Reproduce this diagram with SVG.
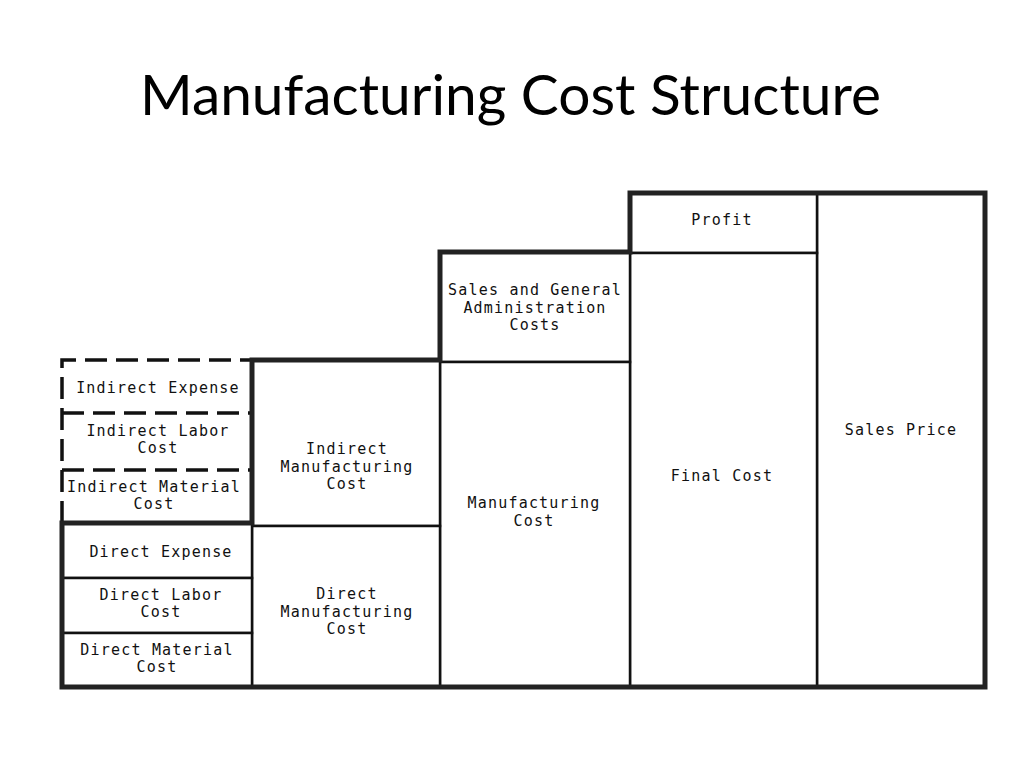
<svg xmlns="http://www.w3.org/2000/svg" width="1024" height="768" viewBox="0 0 1024 768">
  <style>
    .title { font-family: Lato, "Open Sans", "Liberation Sans", sans-serif; font-size: 56px; fill: #000; }
    .lbl { font-family: "DejaVu Sans Mono", "Liberation Mono", monospace; font-size: 15px; letter-spacing: 1.2px; fill: #111; text-anchor: middle; }
    .cell { fill: #fff; stroke: #111; stroke-width: 2.5; }
    .cellnb { fill: #fff; stroke: none; }
    .outline { fill: none; stroke: #222; stroke-width: 5; stroke-linejoin: miter; }
    .dash { fill: none; stroke: #111; stroke-width: 3.5; stroke-dasharray: 22 9; }
  </style>
  <rect width="1024" height="768" fill="#fff"/>
  <text class="title" x="140" y="115" textLength="741" lengthAdjust="spacingAndGlyphs">Manufacturing Cost Structure</text>

  <g id="sales-price"><rect class="cell" x="817" y="193" width="168" height="494"/><text class="lbl" x="901" y="435">Sales Price</text></g>
  <g id="profit"><rect class="cell" x="630" y="193" width="187" height="60"/><text class="lbl" x="722" y="225">Profit</text></g>
  <g id="final-cost"><rect class="cell" x="630" y="253" width="187" height="434"/><text class="lbl" x="722" y="481">Final Cost</text></g>
  <g id="sga-costs"><rect class="cell" x="440" y="252" width="190" height="110"/><text class="lbl" x="535" y="295">Sales and General</text><text class="lbl" x="535" y="312.5">Administration</text><text class="lbl" x="535" y="330">Costs</text></g>
  <g id="manufacturing-cost"><rect class="cell" x="440" y="362" width="190" height="325"/><text class="lbl" x="534" y="508">Manufacturing</text><text class="lbl" x="534" y="525.5">Cost</text></g>
  <g id="indirect-manufacturing-cost"><rect class="cell" x="252" y="360" width="188" height="166"/><text class="lbl" x="347" y="454">Indirect</text><text class="lbl" x="347" y="471.5">Manufacturing</text><text class="lbl" x="347" y="489">Cost</text></g>
  <g id="direct-manufacturing-cost"><rect class="cell" x="252" y="526" width="188" height="161"/><text class="lbl" x="347" y="599">Direct</text><text class="lbl" x="347" y="616.5">Manufacturing</text><text class="lbl" x="347" y="634">Cost</text></g>
  <g id="indirect-expense"><rect class="cellnb" x="62" y="360" width="190" height="53"/><text class="lbl" x="158" y="393">Indirect Expense</text></g>
  <g id="indirect-labor-cost"><rect class="cellnb" x="62" y="413" width="190" height="57"/><text class="lbl" x="158" y="435.5">Indirect Labor</text><text class="lbl" x="158" y="453">Cost</text></g>
  <g id="indirect-material-cost"><rect class="cellnb" x="62" y="470" width="190" height="53"/><text class="lbl" x="154" y="491.5">Indirect Material</text><text class="lbl" x="154" y="509">Cost</text></g>
  <g id="direct-expense"><rect class="cell" x="62" y="523" width="190" height="55"/><text class="lbl" x="161" y="557">Direct Expense</text></g>
  <g id="direct-labor-cost"><rect class="cell" x="62" y="578" width="190" height="55"/><text class="lbl" x="161" y="599.5">Direct Labor</text><text class="lbl" x="161" y="617">Cost</text></g>
  <g id="direct-material-cost"><rect class="cell" x="62" y="633" width="190" height="54"/><text class="lbl" x="157" y="654.5">Direct Material</text><text class="lbl" x="157" y="672">Cost</text></g>

  <g id="connectors">
    <path class="dash" d="M62,523 L62,360 L252,360"/>
    <path class="dash" d="M62,413 L252,413"/>
    <path class="dash" d="M62,470 L252,470"/>
    <path class="outline" d="M62,523 L62,687 L985,687 L985,193 L630,193 L630,252 L440,252 L440,360 L252,360 L252,523 Z"/>
  </g>
</svg>
